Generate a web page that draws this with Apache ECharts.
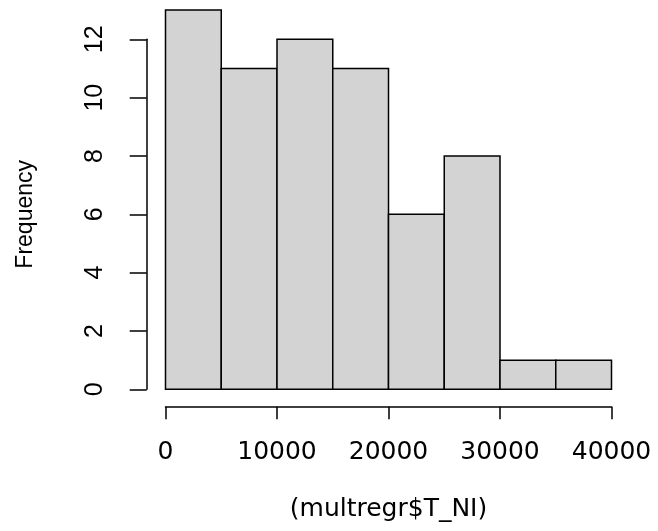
<!DOCTYPE html>
<html>
<head>
<meta charset="utf-8">
<script src="https://cdn.jsdelivr.net/npm/echarts@6/dist/echarts.min.js"></script>
<style>
html,body{margin:0;padding:0;background:#fff;}
#chart{width:658px;height:531px;}
</style>
</head>
<body>
<div id="chart"></div>
<script>
// Histogram bins and frequencies
const binEdges = [0, 5000, 10000, 15000, 20000, 25000, 30000, 35000, 40000];
const counts = [13, 11, 12, 11, 6, 8, 1, 1];
const xTicks = [0, 10000, 20000, 30000, 40000];
const yTicks = [0, 2, 4, 6, 8, 10, 12];
const xLabel = '(multregr$T_NI)';
const yLabel = 'Frequency';

const bins = counts.map((c, i) => [binEdges[i], binEdges[i + 1], c]);

const chart = echarts.init(document.getElementById('chart'), null, {renderer: 'canvas'});

const GL = 165.5, GR = 46.5, GB = 141.7;
const option = {
  animation: false,
  backgroundColor: '#fff',
  grid: [
    {left: GL, right: GR, top: 10.1, bottom: GB},
    {left: GL, right: GR, top: 39.3, bottom: GB}
  ],
  xAxis: [
    {
      type: 'value', gridIndex: 0,
      min: binEdges[0], max: binEdges[binEdges.length - 1], interval: 10000,
      offset: 17.4,
      axisLine: {show: true, onZero: false, lineStyle: {color: '#000', width: 1.5}},
      axisTick: {show: true, length: 12.5, lineStyle: {color: '#000', width: 1.5}},
      splitLine: {show: false},
      axisLabel: {
        margin: 33, color: '#000', fontSize: 25, fontFamily: 'DejaVu Sans',
        showMinLabel: true, showMaxLabel: true,
        customValues: xTicks,
        formatter: function (v) { return String(v); }
      },
      name: xLabel, nameLocation: 'middle', nameGap: 90,
      nameTextStyle: {color: '#000', fontSize: 25, fontFamily: 'DejaVu Sans'}
    },
    {
      type: 'value', gridIndex: 1,
      min: binEdges[0], max: binEdges[binEdges.length - 1],
      show: false
    }
  ],
  yAxis: [
    {
      type: 'value', gridIndex: 0, min: 0, max: 13, show: false
    },
    {
      type: 'value', gridIndex: 1,
      min: yTicks[0], max: yTicks[yTicks.length - 1], interval: 2,
      offset: 18.8,
      axisLine: {show: true, onZero: false, lineStyle: {color: '#000', width: 1.5}},
      axisTick: {show: true, length: 17, lineStyle: {color: '#000', width: 1.5}},
      splitLine: {show: false},
      axisLabel: {
        rotate: 90, margin: 39, color: '#000', fontSize: 25,
        fontFamily: 'Liberation Sans', showMinLabel: true, showMaxLabel: true
      },
      name: yLabel, nameLocation: 'middle', nameGap: 110, nameRotate: 90,
      nameTextStyle: {color: '#000', fontSize: 23, fontFamily: 'Liberation Sans'}
    }
  ],
  series: [
    {
      type: 'custom',
      xAxisIndex: 0, yAxisIndex: 0,
      clip: false,
      data: bins,
      encode: {x: [0, 1], y: 2},
      renderItem: function (params, api) {
        const p0 = api.coord([api.value(0), api.value(2)]);
        const p1 = api.coord([api.value(1), 0]);
        return {
          type: 'rect',
          shape: {x: p0[0], y: p0[1], width: p1[0] - p0[0], height: p1[1] - p0[1]},
          style: {fill: '#d3d3d3', stroke: '#000', lineWidth: 1.5}
        };
      }
    }
  ]
};
chart.setOption(option);
</script>
</body>
</html>
